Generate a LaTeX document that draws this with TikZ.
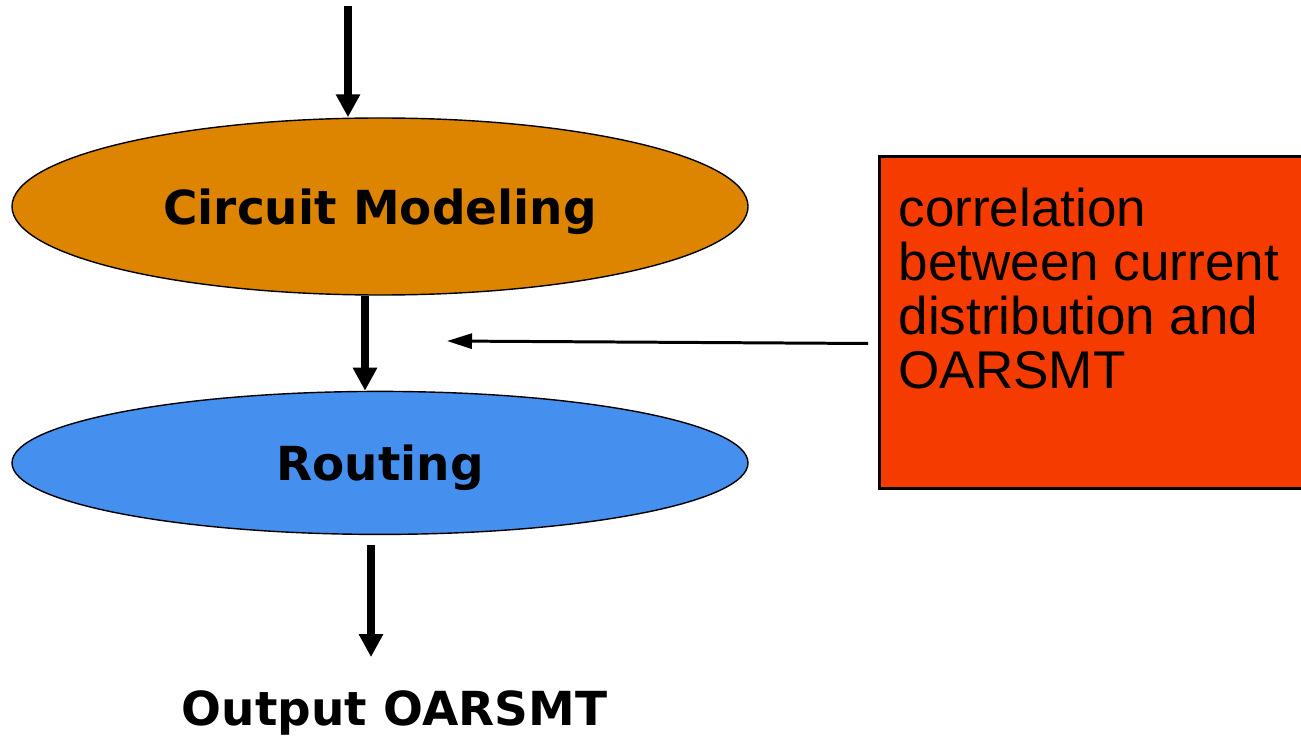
\documentclass[tikz,border=0pt]{standalone}
\usepackage{fontspec}
\newfontfamily\flowfont{DejaVu Sans}
\newfontfamily\notefont{Liberation Sans}
\usetikzlibrary{positioning,shapes,arrows.meta}

\definecolor{modelorange}{RGB}{221,133,0}
\definecolor{routeblue}{RGB}{69,144,238}
\definecolor{notered}{RGB}{245,59,0}

\begin{document}
\begin{tikzpicture}[
  node distance=1.9cm,
  stage/.style={draw,ellipse,line width=0.8pt,minimum width=14.72cm,text depth=0pt,
    font=\flowfont\bfseries\fontsize{26.7}{32}\selectfont},
  flow/.style={line width=4pt,-{Triangle[length=4.6mm,width=4.6mm]}},
  hint/.style={line width=1.7pt,-{Triangle[length=5mm,width=3mm]}},
  notebox/.style={draw,line width=1.7pt,fill=notered,anchor=north west,
    inner xsep=0.38cm,inner ysep=0.64cm,
    font=\notefont\fontsize{30.2}{30.7}\selectfont}
]

\clip (0,0) rectangle (26.02,-14.76);

\node[stage,fill=modelorange,minimum height=3.54cm] (cm) at (7.6,-4.13) {Circuit Modeling};
\node[stage,fill=routeblue,minimum height=2.86cm,below=of cm] (rt) {Routing};
\node[font=\flowfont\bfseries\fontsize{26.7}{32}\selectfont,anchor=base] (out) at (7.89,-14.5) {Output OARSMT};

\node[notebox] (note) at (17.56,-3.1) {\parbox[t][5.36cm][t]{8.1cm}{correlation\\between current\\distribution and\\OARSMT}};

\coordinate (in) at (6.96,-0.12);
\coordinate (gap) at (8.94,-6.82);

\path
% main flow
(in) edge[flow] (in |- cm.north) %
([xshift=-0.3cm]cm.south) edge[flow] ([xshift=-0.3cm]rt.north) %
([xshift=-0.18cm,yshift=-0.2cm]rt.south) edge[flow] ([xshift=-0.18cm,yshift=-2.44cm]rt.south) %

% side note
([shift={(-0.2,-0.42)}]note.west) edge[hint] (gap) %
;

\end{tikzpicture}
\end{document}
